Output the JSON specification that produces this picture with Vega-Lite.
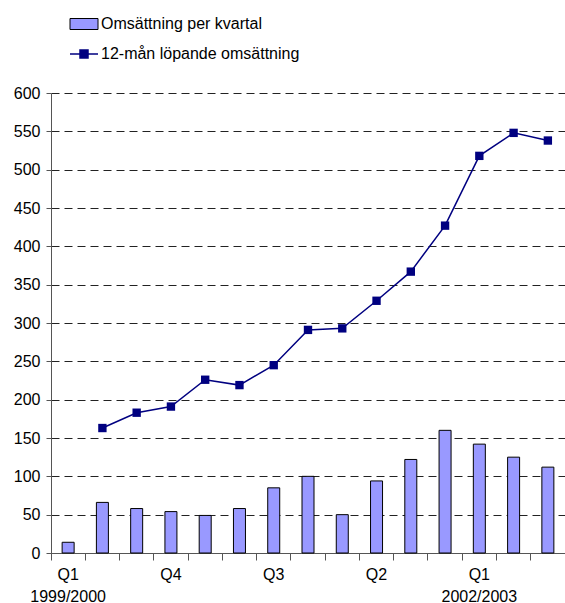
{
  "$schema": "https://vega.github.io/schema/vega-lite/v6.json",
  "autosize": {"type": "none"},
  "padding": {"left": 51, "top": 93, "right": 0, "bottom": 50},
  "width": 514,
  "height": 460,
  "background": "white",
  "config": {
    "font": "Liberation Sans",
    "view": {"stroke": null},
    "axis": {"labelFont": "Liberation Sans", "labelFontSize": 16, "labelColor": "#000"},
    "axisY": {
      "values": [0, 50, 100, 150, 200, 250, 300, 350, 400, 450, 500, 550, 600],
      "labelOverlap": false,
      "tickSize": 5,
      "tickColor": "#555",
      "domainColor": "#555",
      "labelPadding": 6,
      "grid": true,
      "gridColor": "#222",
      "gridDash": [8, 5],
      "gridWidth": 1
    }
  },
  "data": {
    "values": [
      {"kvartal": "1999/2000 Q1", "omsattning": 14, "lopande": null},
      {"kvartal": "1999/2000 Q2", "omsattning": 66, "lopande": 163},
      {"kvartal": "1999/2000 Q3", "omsattning": 58, "lopande": 183},
      {"kvartal": "1999/2000 Q4", "omsattning": 54, "lopande": 191},
      {"kvartal": "2000/2001 Q1", "omsattning": 49, "lopande": 226},
      {"kvartal": "2000/2001 Q2", "omsattning": 58, "lopande": 219},
      {"kvartal": "2000/2001 Q3", "omsattning": 85, "lopande": 245},
      {"kvartal": "2000/2001 Q4", "omsattning": 100, "lopande": 291},
      {"kvartal": "2001/2002 Q1", "omsattning": 50, "lopande": 293},
      {"kvartal": "2001/2002 Q2", "omsattning": 94, "lopande": 329},
      {"kvartal": "2001/2002 Q3", "omsattning": 122, "lopande": 367},
      {"kvartal": "2001/2002 Q4", "omsattning": 160, "lopande": 427},
      {"kvartal": "2002/2003 Q1", "omsattning": 142, "lopande": 518},
      {"kvartal": "2002/2003 Q2", "omsattning": 125, "lopande": 548},
      {"kvartal": "2002/2003 Q3", "omsattning": 112, "lopande": 538}
    ]
  },
  "encoding": {
    "x": {
      "field": "kvartal",
      "type": "ordinal",
      "sort": null,
      "scale": {"paddingInner": 0, "paddingOuter": 0},
      "axis": {
        "title": null,
        "labelAngle": 0,
        "bandPosition": 0,
        "tickSize": 7,
        "tickColor": "#555",
        "domainColor": "#555",
        "labelPadding": 6,
        "labelLineHeight": 22,
        "labelBaseline": "top",
        "labelOverlap": false,
        "labelExpr": "indexof(['1999/2000 Q1','2002/2003 Q1'], datum.value) >= 0 ? [split(datum.value,' ')[1], split(datum.value,' ')[0]] : (indexof(['1999/2000 Q4','2000/2001 Q3','2001/2002 Q2'], datum.value) >= 0 ? split(datum.value,' ')[1] : '')"
      }
    }
  },
  "layer": [
    {
      "mark": {"type": "bar", "size": 12, "stroke": "#000", "strokeWidth": 1},
      "encoding": {
        "y": {
          "field": "omsattning",
          "type": "quantitative",
          "scale": {"domain": [0, 600], "nice": false},
          "axis": {"title": null}
        },
        "fill": {
          "datum": "Omsättning per kvartal",
          "scale": {"range": ["#9999ff"]},
          "legend": {
            "title": null,
            "orient": "none",
            "legendX": 25,
            "legendY": -77,
            "padding": 0,
            "symbolType": "M-2.8,-1.1H2.8V1.1H-2.8Z",
            "symbolSize": 100,
            "symbolStrokeColor": "#000",
            "symbolStrokeWidth": 1,
            "labelOffset": 9,
            "labelLimit": 0,
            "labelFontSize": 16,
            "labelFont": "Liberation Sans",
            "labelColor": "#000"
          }
        }
      }
    },
    {
      "mark": {"type": "line", "strokeWidth": 1.5},
      "encoding": {
        "y": {"field": "lopande", "type": "quantitative", "scale": {"domain": [0, 600], "nice": false}, "axis": {"title": null}},
        "stroke": {
          "datum": "12-mån löpande omsättning",
          "scale": {"range": ["#000080"]},
          "legend": {
            "title": null,
            "orient": "none",
            "legendX": 25,
            "legendY": -47,
            "padding": 0,
            "symbolType": "M-2.8,0H2.8M-0.8,-0.8H0.8V0.8H-0.8Z",
            "symbolSize": 100,
            "symbolFillColor": "#000080",
            "symbolStrokeWidth": 1.5,
            "labelOffset": 9,
            "labelLimit": 0,
            "labelFontSize": 16,
            "labelFont": "Liberation Sans",
            "labelColor": "#000"
          }
        }
      }
    },
    {
      "mark": {"type": "point", "shape": "square", "filled": true, "size": 70, "color": "#000080", "opacity": 1},
      "encoding": {
        "y": {"field": "lopande", "type": "quantitative", "scale": {"domain": [0, 600], "nice": false}, "axis": {"title": null}}
      }
    }
  ]
}
